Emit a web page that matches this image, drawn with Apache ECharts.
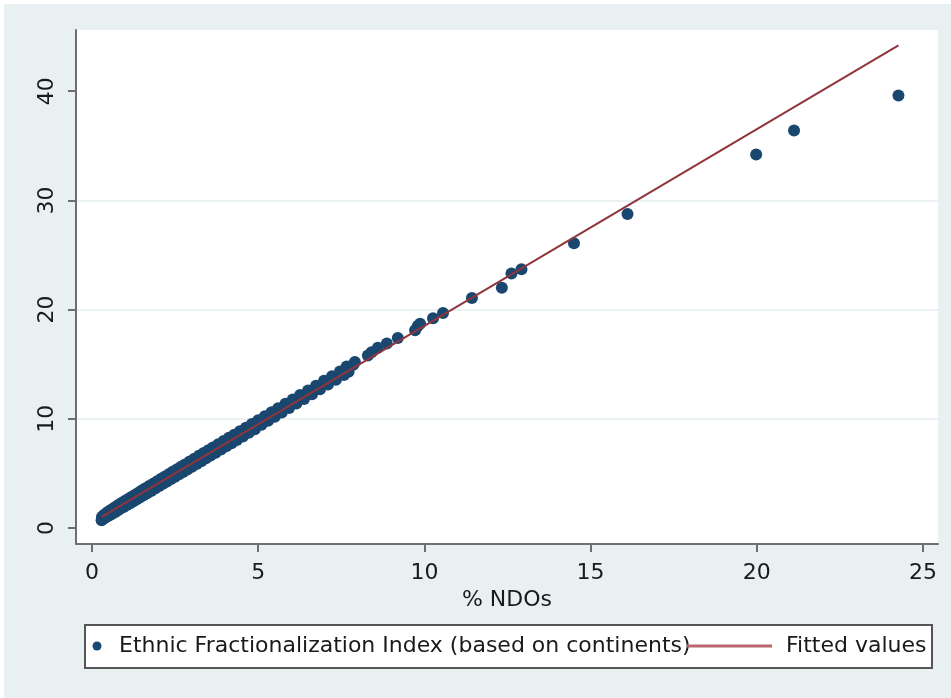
<!DOCTYPE html>
<html>
<head>
<meta charset="utf-8">
<script src="https://cdn.jsdelivr.net/npm/echarts@6/dist/echarts.min.js"></script>
<style>
  html, body { margin: 0; padding: 0; background: #ffffff; }
  #chart { position: absolute; left: 4px; top: 4px; width: 947px; height: 694px; }
</style>
</head>
<body>
<div id="chart"></div>
<script>
// ---- data ----
const seriesNames = ['Ethnic Fractionalization Index (based on continents)', 'Fitted values'];
const xTicks = [0, 5, 10, 15, 20, 25];
const yTicks = [0, 10, 20, 30, 40];
const xAxisTitle = '% NDOs';

// % NDOs (x)
const ndoPct = [
  0.29, 0.30, 0.33, 0.36, 0.40, 0.43, 0.47, 0.50, 0.54, 0.58,
  0.62, 0.66, 0.70, 0.74, 0.78, 0.82, 0.86, 0.90, 0.95, 1.00,
  1.05, 1.10, 1.15, 1.20, 1.25, 1.30, 1.35, 1.40, 1.45, 1.50,
  1.55, 1.60, 1.66, 1.72, 1.78, 1.84, 1.90, 1.96, 2.02, 2.08,
  2.14, 2.20, 2.26, 2.32, 2.38, 2.44, 2.50, 2.56, 2.62, 2.68,
  2.74, 2.80, 2.87, 2.94, 3.01, 3.08, 3.15, 3.22, 3.29, 3.36,
  3.43, 3.50, 3.57, 3.64, 3.72, 3.80, 3.88, 3.96, 4.04, 4.12,
  4.20, 4.28, 4.36, 4.45, 4.54, 4.63, 4.72, 4.81, 4.90, 5.00,
  5.10, 5.20, 5.30, 5.40, 5.50, 5.60, 5.71, 5.82, 5.93, 6.04,
  6.15, 6.26, 6.38, 6.50, 6.62, 6.74, 6.86, 6.98, 7.10, 7.22,
  7.34, 7.46, 7.58, 7.66, 7.72, 7.86, 7.91, 8.30, 8.41, 8.60,
  8.87, 9.20, 9.72, 9.80, 9.87, 10.26, 10.56, 11.43, 12.33, 12.62,
  12.92, 14.50, 16.11, 19.98, 21.12, 24.26
];
// Ethnic Fractionalization Index (y)
const ethnicIdx = [
  0.72, 1.02, 0.84, 1.20, 0.95, 1.36, 1.08, 1.52, 1.20, 1.68,
  1.33, 1.83, 1.47, 1.99, 1.63, 2.15, 1.78, 2.31, 1.93, 2.50,
  2.10, 2.68, 2.28, 2.87, 2.46, 3.06, 2.64, 3.24, 2.82, 3.43,
  3.00, 3.62, 3.19, 3.85, 3.40, 4.06, 3.62, 4.29, 3.84, 4.51,
  4.05, 4.73, 4.27, 4.95, 4.48, 5.17, 4.70, 5.39, 4.92, 5.61,
  5.14, 5.83, 5.36, 6.09, 5.61, 6.35, 5.87, 6.61, 6.12, 6.87,
  6.38, 7.12, 6.64, 7.38, 6.90, 7.67, 7.19, 7.96, 7.48, 8.26,
  7.77, 8.55, 8.06, 8.86, 8.39, 9.19, 8.72, 9.52, 9.05, 9.87,
  9.45, 10.24, 9.82, 10.61, 10.20, 10.98, 10.58, 11.38, 10.99, 11.78,
  11.40, 12.18, 11.82, 12.60, 12.25, 13.04, 12.70, 13.48, 13.14, 13.90,
  13.58, 14.33, 14.02, 14.80, 14.30, 14.95, 15.20, 15.80, 16.10, 16.50,
  16.90, 17.40, 18.10, 18.50, 18.70, 19.20, 19.70, 21.06, 22.00, 23.30,
  23.70, 26.07, 28.75, 34.20, 36.40, 39.60
];

// fitted line end points
const fitX = [0.29, 24.26];
const fitY = [1.03, 44.20];

// ---- chart ----
const FONT = 'DejaVu Sans';
const scatterData = ndoPct.map((x, i) => [x, ethnicIdx[i]]);
const fitData = fitX.map((x, i) => [x, fitY[i]]);

const chart = echarts.init(document.getElementById('chart'), null, { renderer: 'canvas' });
chart.setOption({
  animation: false,
  backgroundColor: '#e8f0f2',
  grid: {
    left: 72, top: 26, width: 862, height: 514,
    show: true, backgroundColor: '#ffffff', borderWidth: 0
  },
  xAxis: {
    type: 'value', min: -0.48, max: 25.45,
    name: xAxisTitle, nameLocation: 'middle', nameGap: 39,
    nameTextStyle: { fontFamily: FONT, fontSize: 22, color: '#1a1a1a' },
    axisLine: { show: true, onZero: false, lineStyle: { color: '#6e6e6e', width: 2 } },
    axisTick: { show: true, length: 8, customValues: xTicks, lineStyle: { color: '#6e6e6e', width: 2 } },
    axisLabel: { customValues: xTicks, margin: 18, fontFamily: FONT, fontSize: 22, color: '#1a1a1a' },
    splitLine: { show: false }
  },
  yAxis: {
    type: 'value', min: -1.46, max: 45.6,
    axisLine: { show: true, onZero: false, lineStyle: { color: '#6e6e6e', width: 2 } },
    axisTick: { show: true, length: 8, customValues: yTicks, lineStyle: { color: '#6e6e6e', width: 2 } },
    axisLabel: { customValues: yTicks, rotate: 90, margin: 18, fontFamily: FONT, fontSize: 22, color: '#1a1a1a' },
    splitLine: { show: true, showMinLine: false, showMaxLine: false, lineStyle: { color: '#eaf2f3', width: 2 } }
  },
  legend: [
    {
      data: [{ name: seriesNames[0], itemStyle: { color: '#1a476f', opacity: 1 } }],
      left: 88.5, top: 630, padding: 0,
      icon: 'circle', itemWidth: 9, itemHeight: 9,
      selectedMode: false,
      textStyle: { fontFamily: FONT, fontSize: 22, color: '#1a1a1a', lineHeight: 24, padding: [0, 0, 0, 12.5] }
    },
    {
      data: [{ name: seriesNames[1], itemStyle: { color: '#b9676c' } }], left: 683, top: 630, padding: 0,
      icon: 'rect', itemWidth: 85, itemHeight: 3,
      selectedMode: false,
      textStyle: { fontFamily: FONT, fontSize: 22, color: '#1a1a1a', lineHeight: 24, padding: [0, 0, 0, 9] }
    }
  ],
  graphic: [
    {
      type: 'rect', left: 80, top: 620, z: -1,
      shape: { width: 847, height: 43 },
      style: { fill: '#ffffff', stroke: '#555555', lineWidth: 2 }
    }
  ],
  series: [
    {
      name: seriesNames[0], type: 'scatter', data: scatterData,
      symbol: 'circle', symbolSize: 12,
      itemStyle: { color: '#1a476f', opacity: 1 }
    },
    {
      name: seriesNames[1], type: 'line', data: fitData,
      showSymbol: false, symbol: 'none',
      lineStyle: { color: '#90353b', width: 2 },
      itemStyle: { color: '#90353b' }
    }
  ]
});
</script>
</body>
</html>
